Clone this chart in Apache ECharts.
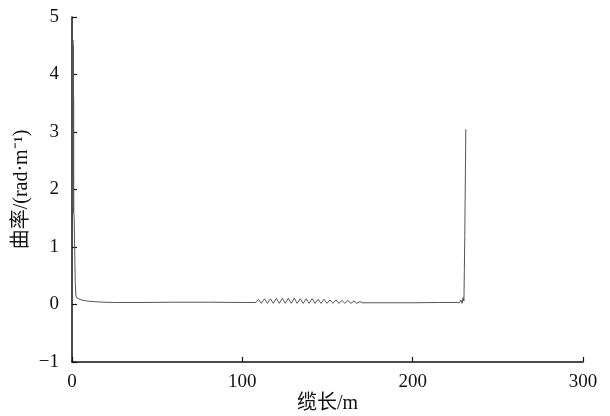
<!DOCTYPE html>
<html><head><meta charset="utf-8">
<script src="https://cdn.jsdelivr.net/npm/echarts@6/dist/echarts.min.js"></script>
<style>html,body{margin:0;padding:0;background:#fff}#c{width:610px;height:416px}</style>
</head><body><div id="c"></div>
<script>
var xTicks = [0, 100, 200, 300];
var yTicks = [-1, 0, 1, 2, 3, 4, 5];
var cableLength = [0.3, 0.45, 0.55, 0.65, 0.75, 0.85, 0.95, 1.05, 1.3, 1.6, 1.9, 2.3, 3, 4, 6, 9, 13, 18, 25, 40, 60, 80, 100, 108,
  109.5, 111.2, 113, 114.7, 116.5, 118.2, 120, 121.7, 123.5, 125.2, 127, 128.7, 130.5, 132.2, 134, 135.7, 137.5, 139.2, 141, 142.7,
  144.5, 146.2, 148, 149.7, 151.5, 153.2, 155, 156.7, 158.5, 160.2, 162, 163.7, 165.5, 167.2, 169, 170.5,
  185, 200, 215, 226, 227.5, 228.3, 229, 229.6, 230.1, 230.6, 231.2];
var curvature = [4.6, 1.7, 4.6, 1.8, 4.5, 1.6, 3.6, 1.6, 1.5, 0.9, 0.4, 0.15, 0.11, 0.09, 0.075, 0.06, 0.05, 0.04, 0.035, 0.035, 0.04, 0.04, 0.035, 0.035,
  0.09, 0.02, 0.1, 0.02, 0.1, 0.02, 0.11, 0.02, 0.11, 0.02, 0.11, 0.02, 0.11, 0.02, 0.1, 0.02, 0.1, 0.02, 0.1, 0.02,
  0.09, 0.02, 0.09, 0.02, 0.08, 0.02, 0.08, 0.02, 0.07, 0.02, 0.07, 0.02, 0.06, 0.02, 0.05, 0.03,
  0.03, 0.03, 0.035, 0.035, 0.03, 0.08, 0.02, 0.12, 0.06, 1.2, 3.05];

var data = cableLength.map(function (x, i) { return [x, curvature[i]]; });
var serif = 'Liberation Serif, "Noto Sans CJK SC", serif';
var chart = echarts.init(document.getElementById('c'));
chart.setOption({
  animation: false,
  backgroundColor: '#fff',
  grid: { left: 72, right: 27, top: 17, bottom: 54, outerBoundsMode: 'none', containLabel: false },
  xAxis: {
    type: 'value', min: xTicks[0], max: xTicks[xTicks.length - 1], interval: 100,
    name: '缆长/m', nameLocation: 'middle', nameGap: 32, nameMoveOverlap: false,
    nameTextStyle: { fontFamily: serif, fontSize: 20, color: '#111' },
    axisLine: { show: true, onZero: false, lineStyle: { color: '#111', width: 1.5 } },
    axisTick: { show: true, inside: true, length: 5, lineStyle: { color: '#111', width: 1.2 } },
    axisLabel: { fontFamily: serif, fontSize: 19, color: '#111', margin: 11 },
    splitLine: { show: false }
  },
  yAxis: {
    type: 'value', min: yTicks[0], max: yTicks[yTicks.length - 1], interval: 1,
    name: '曲率/(rad·m⁻¹)', nameLocation: 'middle', nameGap: 40, nameRotate: 90, nameMoveOverlap: false,
    nameTextStyle: { fontFamily: serif, fontSize: 20, color: '#111' },
    axisLine: { show: true, onZero: false, lineStyle: { color: '#111', width: 1.5 } },
    axisTick: { show: true, inside: true, length: 5, lineStyle: { color: '#111', width: 1.2 } },
    axisLabel: { fontFamily: serif, fontSize: 19, color: '#111', margin: 13,
      formatter: function (v) { return String(v).replace('-', '−'); } },
    splitLine: { show: false }
  },
  series: [{
    type: 'line', data: data, showSymbol: false, smooth: false,
    lineStyle: { color: '#555', width: 1 }
  }]
});
</script></body></html>
